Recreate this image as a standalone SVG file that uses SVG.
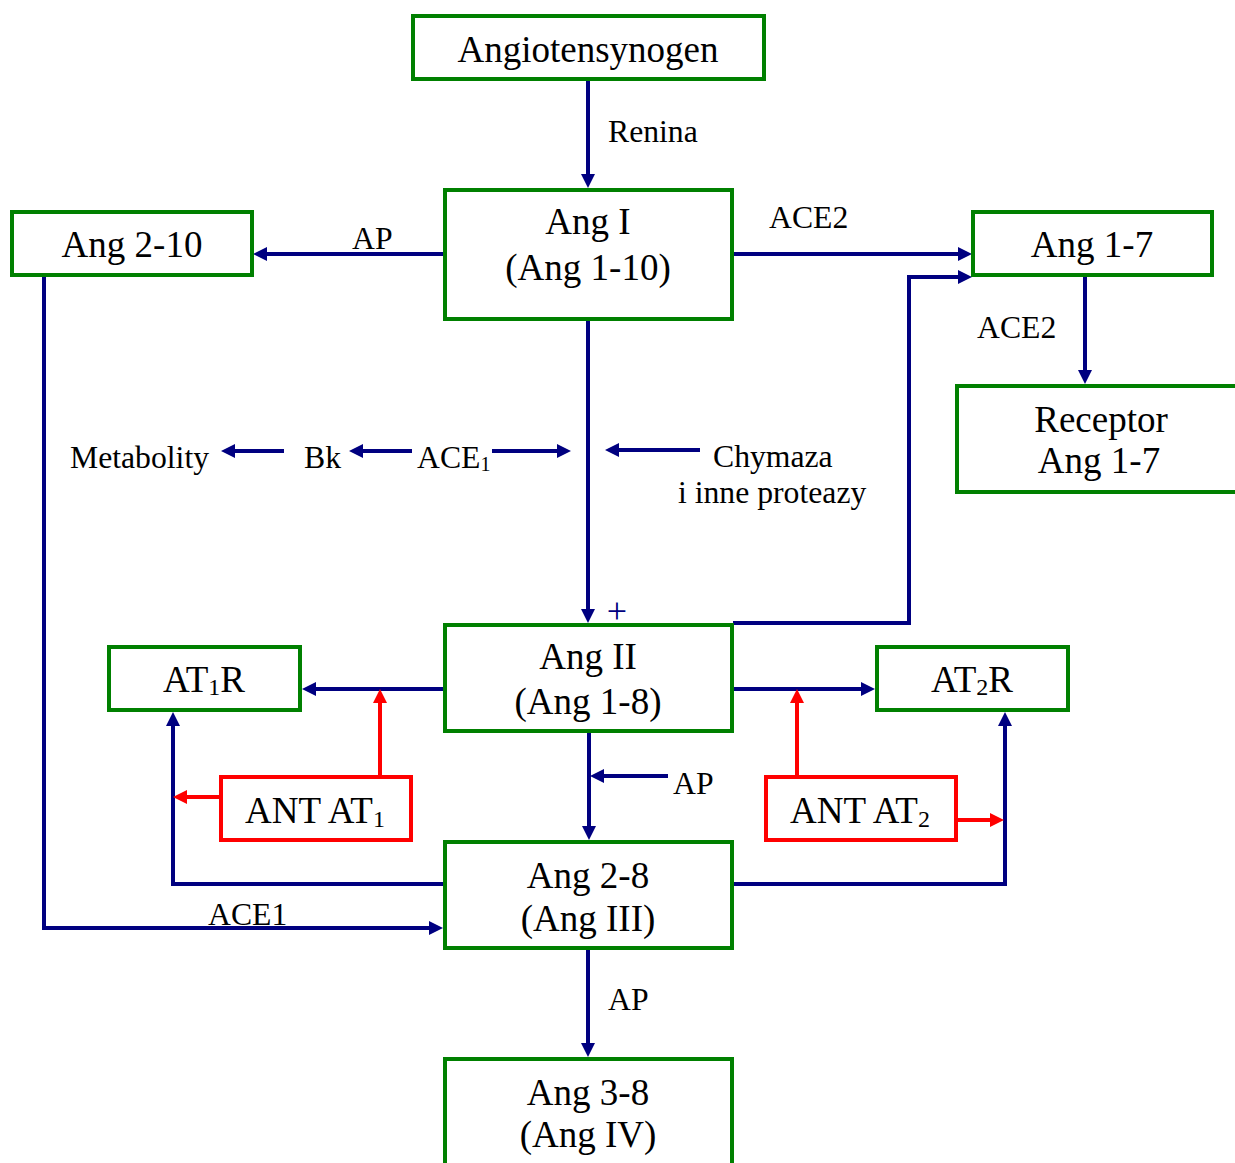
<svg xmlns="http://www.w3.org/2000/svg" width="1235" height="1163" viewBox="0 0 1235 1163">
<style>
.box{fill:#fff;stroke:#008000;stroke-width:4}
.ant{fill:#fff;stroke:#ff0000;stroke-width:4}
.bt{font-family:"Liberation Serif",serif;font-size:37px;fill:#000;text-anchor:middle}
.lb{font-family:"Liberation Serif",serif;font-size:31.7px;fill:#000}
.c{fill:none;stroke:#000080;stroke-width:4;stroke-linejoin:miter}
.r{fill:none;stroke:#ff0000;stroke-width:4}
</style>
<defs>
<marker id="ab" markerUnits="userSpaceOnUse" markerWidth="14" markerHeight="14" refX="10" refY="7" orient="auto"><path d="M0,0 L14,7 L0,14 z" fill="#000080"/></marker>
<marker id="ar" markerUnits="userSpaceOnUse" markerWidth="14" markerHeight="14" refX="10" refY="7" orient="auto"><path d="M0,0 L14,7 L0,14 z" fill="#ff0000"/></marker>
</defs>
<rect width="1235" height="1163" fill="#fff"/>
<g id="connectors">
<path class="c" d="M588,81 V184" marker-end="url(#ab)"/>
<path class="c" d="M444,254 H257" marker-end="url(#ab)"/>
<path class="c" d="M733,254 H968" marker-end="url(#ab)"/>
<path class="c" d="M1085,277 V380" marker-end="url(#ab)"/>
<path class="c" d="M588,320 V619" marker-end="url(#ab)"/>
<path class="c" d="M733,623 H909 V277 H968" marker-end="url(#ab)"/>
<path class="c" d="M444,689 H306" marker-end="url(#ab)"/>
<path class="c" d="M733,689 H871" marker-end="url(#ab)"/>
<path class="c" d="M589,733 V836" marker-end="url(#ab)"/>
<path class="c" d="M668,776 H594" marker-end="url(#ab)"/>
<path class="c" d="M444,884 H173 V716" marker-end="url(#ab)"/>
<path class="c" d="M733,884 H1005 V716" marker-end="url(#ab)"/>
<path class="c" d="M44,276 V928 H439" marker-end="url(#ab)"/>
<path class="c" d="M588,950 V1053" marker-end="url(#ab)"/>
<path class="c" d="M284,451 H225" marker-end="url(#ab)"/>
<path class="c" d="M412,451 H353" marker-end="url(#ab)"/>
<path class="c" d="M492,451 H567" marker-end="url(#ab)"/>
<path class="c" d="M700,450 H609" marker-end="url(#ab)"/>
<path class="r" d="M380,775 V693" marker-end="url(#ar)"/>
<path class="r" d="M219,797 H177" marker-end="url(#ar)"/>
<path class="r" d="M797,775 V693" marker-end="url(#ar)"/>
<path class="r" d="M957,820 H1000" marker-end="url(#ar)"/>
</g>
<g id="labels">
<text class="lb" x="608" y="142">Renina</text>
<text class="lb" x="352" y="249">AP</text>
<text class="lb" x="769" y="228">ACE2</text>
<text class="lb" x="977" y="338">ACE2</text>
<text class="lb" x="70" y="468">Metabolity</text>
<text class="lb" x="304" y="468">Bk</text>
<text class="lb" x="417" y="468">ACE<tspan font-size="20" dy="3">1</tspan></text>
<text class="lb" x="713" y="467">Chymaza</text>
<text class="lb" x="678" y="503">i inne proteazy</text>
<text class="lb" x="673" y="794">AP</text>
<text class="lb" x="208" y="925">ACE1</text>
<text class="lb" x="608" y="1010">AP</text>
<text x="617" y="623" font-family="Liberation Serif,serif" font-size="36" fill="#000080" text-anchor="middle">+</text>
</g>
<g id="angiotensynogen"><rect class="box" x="413" y="16" width="351" height="63"/><text class="bt" x="588" y="62">Angiotensynogen</text></g>
<g id="ang1"><rect class="box" x="445" y="190" width="287" height="129"/><text class="bt" x="588" y="234">Ang I</text><text class="bt" x="588" y="280">(Ang 1-10)</text></g>
<g id="ang2-10"><rect class="box" x="12" y="212" width="240" height="63"/><text class="bt" x="132" y="257">Ang 2-10</text></g>
<g id="ang1-7"><rect class="box" x="973" y="212" width="239" height="63"/><text class="bt" x="1092" y="257">Ang 1-7</text></g>
<g id="receptor"><rect class="box" x="957" y="386" width="290" height="106"/><text class="bt" x="1101" y="432">Receptor</text><text class="bt" x="1099" y="473">Ang 1-7</text></g>
<g id="ang2"><rect class="box" x="445" y="625" width="287" height="106"/><text class="bt" x="588" y="669">Ang II</text><text class="bt" x="588" y="714">(Ang 1-8)</text></g>
<g id="at1r"><rect class="box" x="109" y="647" width="191" height="63"/><text class="bt" x="204" y="692">AT<tspan font-size="24" dy="3">1</tspan><tspan dy="-3">R</tspan></text></g>
<g id="at2r"><rect class="box" x="877" y="647" width="191" height="63"/><text class="bt" x="972" y="692">AT<tspan font-size="24" dy="3">2</tspan><tspan dy="-3">R</tspan></text></g>
<g id="antat1"><rect class="ant" x="221" y="777" width="190" height="63"/><text class="bt" x="315" y="823">ANT AT<tspan font-size="24" dy="4">1</tspan></text></g>
<g id="antat2"><rect class="ant" x="766" y="777" width="190" height="63"/><text class="bt" x="860" y="823">ANT AT<tspan font-size="24" dy="4">2</tspan></text></g>
<g id="ang2-8"><rect class="box" x="445" y="842" width="287" height="106"/><text class="bt" x="588" y="888">Ang 2-8</text><text class="bt" x="588" y="931">(Ang III)</text></g>
<g id="ang3-8"><rect class="box" x="445" y="1059" width="287" height="120"/><text class="bt" x="588" y="1105">Ang 3-8</text><text class="bt" x="588" y="1147">(Ang IV)</text></g>
</svg>
